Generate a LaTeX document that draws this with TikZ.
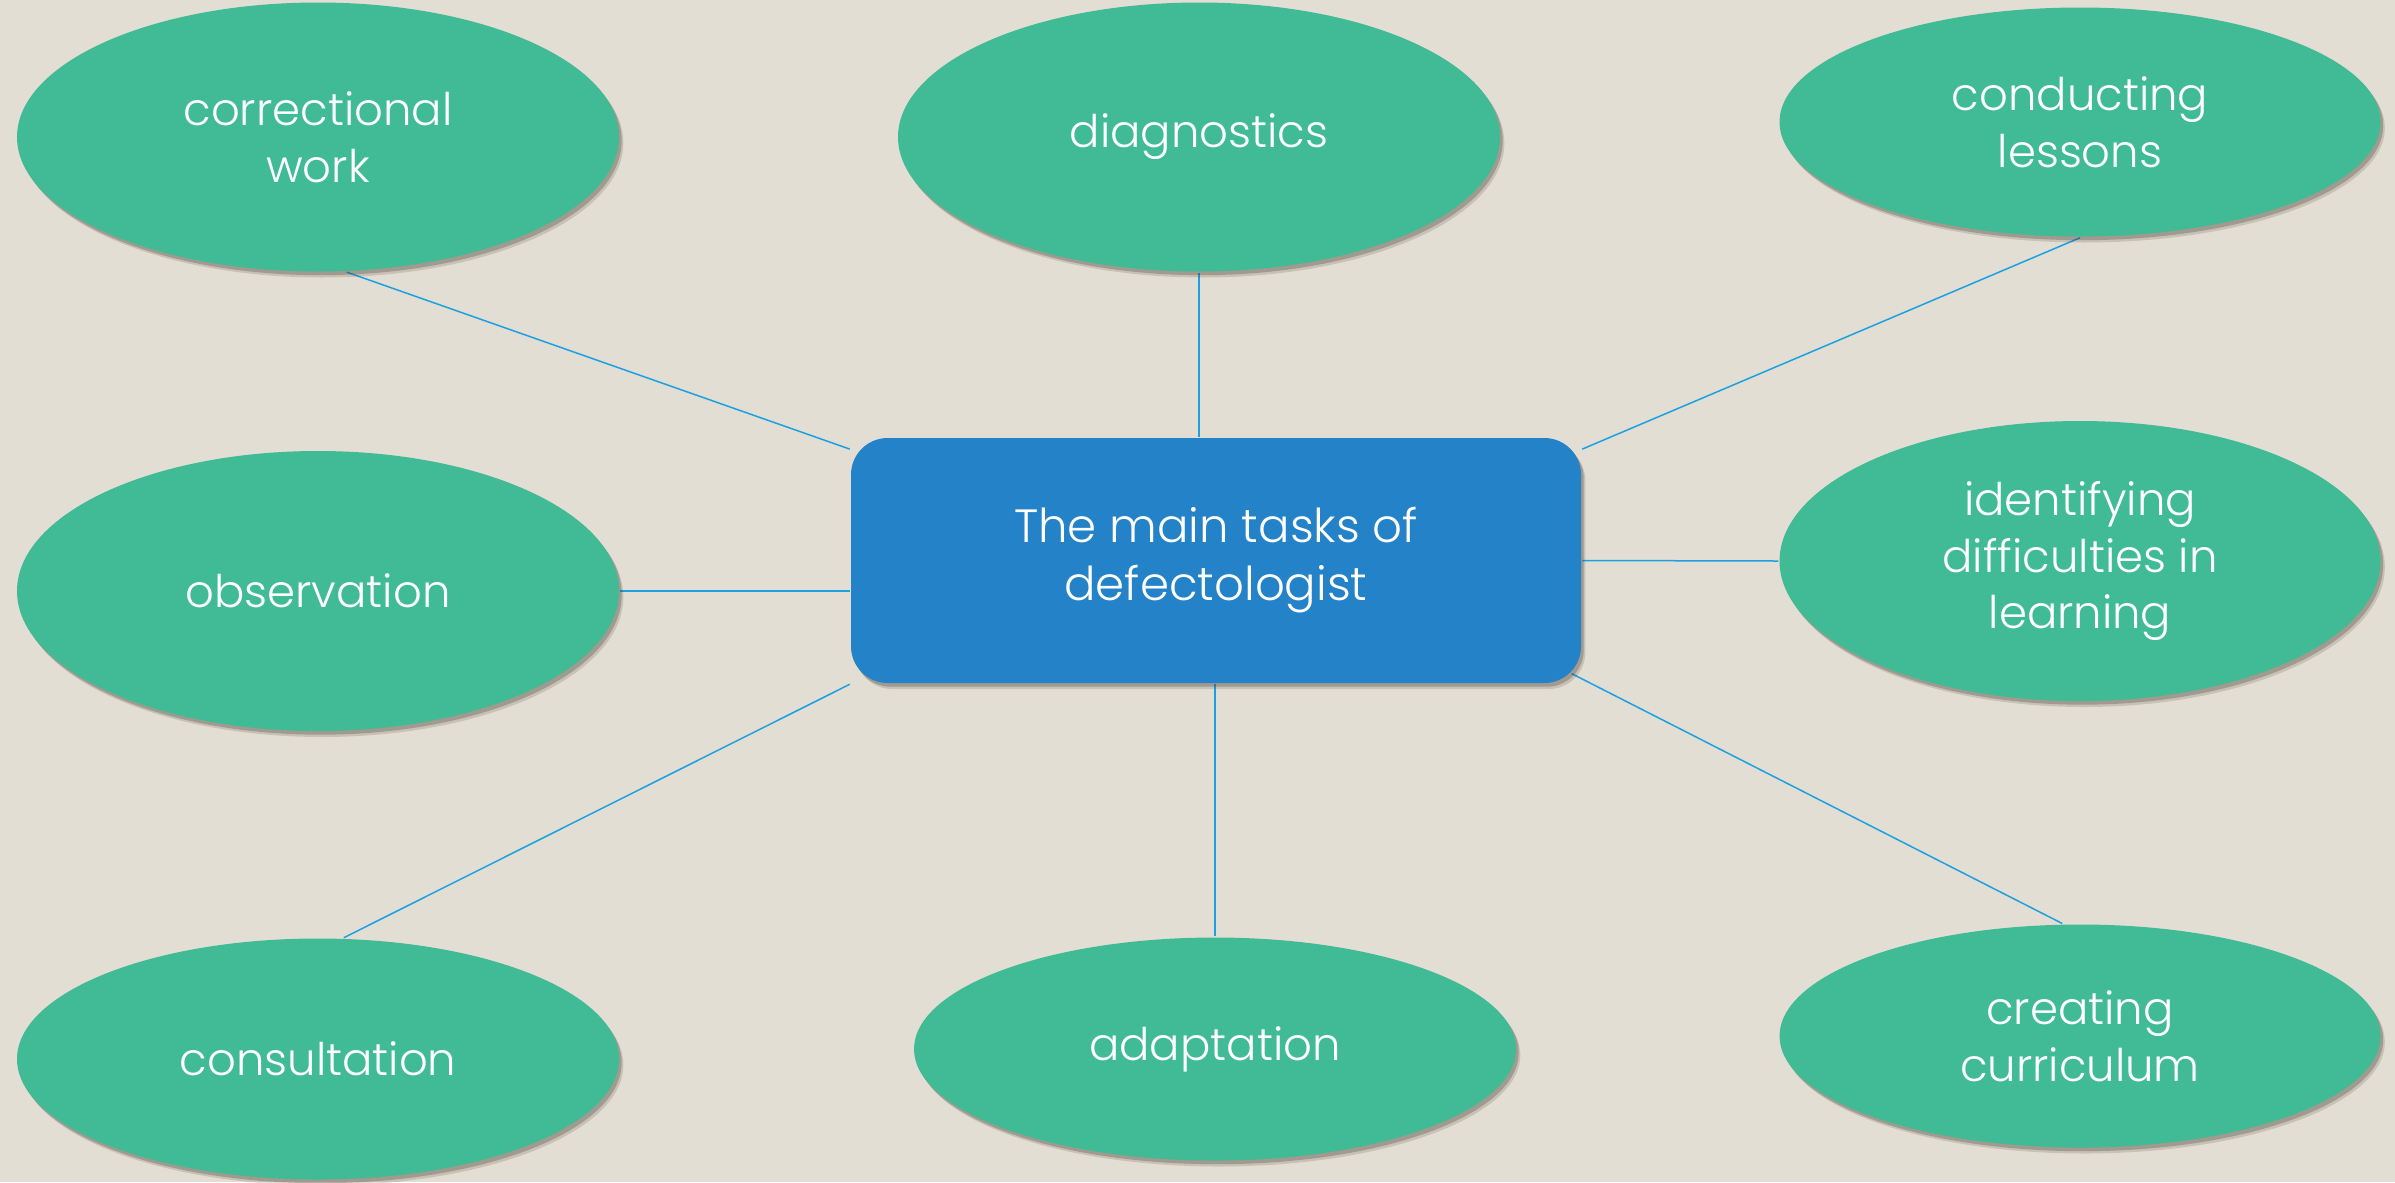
\documentclass[tikz,border=0pt]{standalone}
\usepackage{fontspec}
\setmainfont{Poppins}[UprightFont={* Light}]
\usetikzlibrary{shapes.geometric,shadows,backgrounds}

\definecolor{paper}{HTML}{E3DED3}
\definecolor{taskgreen}{HTML}{40BB96}
\definecolor{mainblue}{HTML}{2382C8}
\definecolor{linkblue}{HTML}{1BA1E2}
\definecolor{shadetone}{HTML}{4A4036}

\tikzset{every picture/.style={line width=0.75pt}}
\tikzset{
  soft shade/.style={
    drop shadow={shadow xshift=1.3pt, shadow yshift=-1.8pt, opacity=0.18, fill=shadetone},
    drop shadow={shadow xshift=0.8pt, shadow yshift=-1.1pt, opacity=0.3, fill=shadetone}},
  task/.style={ellipse, fill=taskgreen, text=white, align=center, inner sep=0pt,
    font=\fontsize{13.5}{17}\selectfont, soft shade},
  mainbox/.style={rectangle, rounded corners=11pt, fill=mainblue, text=white, align=center,
    minimum width=219pt, minimum height=73.5pt, inner sep=0pt,
    font=\fontsize{14}{17.4}\selectfont, soft shade},
  link/.style={draw=linkblue, line width=0.45pt}
}

\begin{document}
\begin{tikzpicture}[x=0.3pt,y=0.3pt,yscale=-1]

\useasboundingbox (0,0) rectangle (2395,1182);
\begin{scope}[on background layer]
\fill [paper] (0,0) rectangle (2395,1182);
\end{scope}

\node [mainbox] (main) at (1216,560.5) {The main tasks of\\defectologist};

\node [task, minimum width=180.6pt, minimum height=80.7pt] (correct) at (318,137) {correctional\\work};
\node [task, minimum width=180.6pt, minimum height=80.7pt] (diag) at (1199,137) {diagnostics};
\node [task, minimum width=180.3pt, minimum height=68.7pt] (lessons) at (2080,122) {conducting\\lessons};
\node [task, minimum width=180.6pt, minimum height=84pt] (observ) at (318,591) {observation};
\node [task, minimum width=180.3pt, minimum height=84pt] (difficult) at (2080,561) {identifying\\difficulties in\\learning};
\node [task, minimum width=180.6pt, minimum height=72.3pt] (consult) at (318,1059) {consultation};
\node [task, minimum width=180.6pt, minimum height=66.9pt] (adapt) at (1215,1049) {adaptation};
\node [task, minimum width=180.3pt, minimum height=66.9pt] (curric) at (2080,1036) {creating\\curriculum};

\begin{scope}[on background layer]
\draw [link] (correct.-78) -- ([yshift=3.7pt]main.north west);
\draw [link] (diag.south) -- (diag.south |- main.north);
\draw [link] (lessons.south) -- ([yshift=3.7pt]main.north east);
\draw [link] (observ.east) -- (observ.east -| main.west);
\draw [link] (main.east) -- (difficult.west);
\draw [link] (consult.78) -- (main.south west);
\draw [link] (adapt.north) -- (adapt.north |- main.south);
\draw [link] (curric.99) -- ([xshift=-3.2pt,yshift=-3.2pt]main.south east);
\end{scope}

\end{tikzpicture}
\end{document}
